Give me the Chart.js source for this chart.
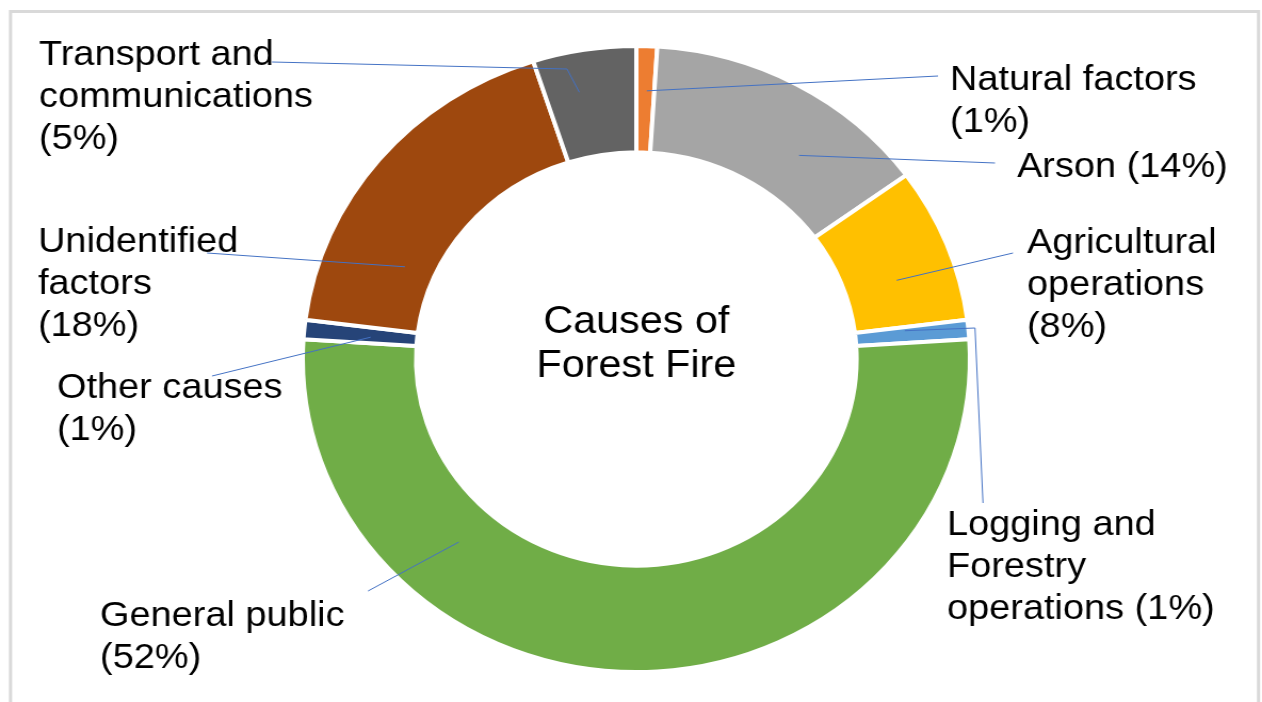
<!DOCTYPE html>
<html>
<head>
<meta charset="utf-8">
<title>Causes of Forest Fire</title>
<script src="https://cdn.jsdelivr.net/npm/chart.js@4.4.1/dist/chart.umd.min.js"></script>
<style>
  html, body { margin: 0; padding: 0; background: #fff; overflow: hidden; }
  /* the chart is laid out narrower and widened a little, like the stretched original figure */
  #wrap { width: 1184px; height: 702px; transform: scaleX(1.06588); transform-origin: 0 0; }
  canvas { display: block; }
</style>
</head>
<body>
<div id="wrap"><canvas id="myChart" width="1184" height="702"></canvas></div>
<script>
var causes = ['Natural factors', 'Arson', 'Agricultural operations', 'Logging and Forestry operations',
              'General public', 'Other causes', 'Unidentified factors', 'Transport and communications'];
var shares = [1, 14, 8, 1, 52, 1, 18, 5];
var sliceColors = ['#ED7D31', '#A5A5A5', '#FFC000', '#5B9BD5', '#70AD47', '#264478', '#9E480E', '#636363'];
var centerTitle = ['Causes of', 'Forest Fire'];

// horizontal stretch between page pixels and canvas pixels
var SX = 1262 / 1184;
function px(x) { return x / SX; }

// callout layout: text rows ({p} = share), first baseline, leader anchor inside the slice
// (along = fraction of the slice angle, depth = fraction of the ring) and the leader path
var callouts = [
  { rows: ['Natural factors', '{p}'], x: 950, y: 90, along: 0.58, depth: 0.58, path: [[938, 76]] },
  { rows: ['Arson {p}'], x: 1017, y: 177, along: 0.66, depth: 0.45, path: [[995, 163]] },
  { rows: ['Agricultural', 'operations', '{p}'], x: 1027, y: 253, along: 0.63, depth: 0.47, path: [[1013, 253]] },
  { rows: ['Logging and', 'Forestry', 'operations {p}'], x: 947, y: 535, along: 0.22, depth: 0.44, path: [[975, 328], [983, 503]] },
  { rows: ['General public', '{p}'], x: 100, y: 626, along: 0.726, depth: 0.385, path: [[368, 591]] },
  { rows: ['Other causes', '{p}'], x: 57, y: 398, along: 0.39, depth: 0.41, path: [[212, 376]] },
  { rows: ['Unidentified', 'factors', '{p}'], x: 38, y: 252, along: 0.244, depth: 0.275, path: [[207, 253]] },
  { rows: ['Transport and', 'communications', '{p}'], x: 39, y: 65, along: 0.37, depth: 0.615, path: [[567, 69], [272, 62]] }
];

var calloutPlugin = {
  id: 'callouts',
  afterDatasetsDraw: function (chart) {
    var ctx = chart.ctx;
    var arcs = chart.getDatasetMeta(0).data;
    ctx.save();

    // light frame round the figure
    ctx.strokeStyle = '#d9d9d9';
    ctx.lineWidth = 3;
    ctx.strokeRect(px(10.5), 11.5, px(1258.5) - px(10.5), 800);

    // leader lines
    ctx.strokeStyle = '#4472C4';
    ctx.lineWidth = 1;
    callouts.forEach(function (c, i) {
      var p = arcs[i].getProps(['x', 'y', 'startAngle', 'endAngle', 'innerRadius', 'outerRadius'], true);
      var a = p.startAngle + (p.endAngle - p.startAngle) * c.along;
      var r = p.innerRadius + (p.outerRadius - p.innerRadius) * c.depth;
      ctx.beginPath();
      ctx.moveTo(p.x + r * Math.cos(a), p.y + r * Math.sin(a));
      c.path.forEach(function (pt) { ctx.lineTo(px(pt[0]), pt[1]); });
      ctx.stroke();
    });

    // callout text
    ctx.fillStyle = '#000';
    ctx.textAlign = 'left';
    ctx.textBaseline = 'alphabetic';
    ctx.font = '35.6px "Liberation Sans", Arial, sans-serif';
    callouts.forEach(function (c, i) {
      c.rows.forEach(function (row, k) {
        ctx.fillText(row.replace('{p}', '(' + shares[i] + '%)'), px(c.x), c.y + k * 42);
      });
    });

    // title in the hole
    var cx = arcs[0].x;
    ctx.textAlign = 'center';
    ctx.font = '38.8px "Liberation Sans", Arial, sans-serif';
    centerTitle.forEach(function (line, k) {
      ctx.fillText(line, cx, 333 + k * 44);
    });
    ctx.restore();
  }
};

var ctx = document.getElementById('myChart').getContext('2d');
var myChart = new Chart(ctx, {
  type: 'doughnut',
  data: {
    labels: causes,
    datasets: [{
      data: shares,
      backgroundColor: sliceColors,
      borderColor: '#ffffff',
      borderWidth: 4,
      clip: false
    }]
  },
  options: {
    responsive: false,
    animation: false,
    radius: 313,
    cutout: 204,
    layout: { padding: { left: 284, right: 274, top: 48, bottom: 32 } },
    plugins: {
      legend: { display: false },
      tooltip: { enabled: false }
    }
  },
  plugins: [calloutPlugin]
});
</script>
</body>
</html>
